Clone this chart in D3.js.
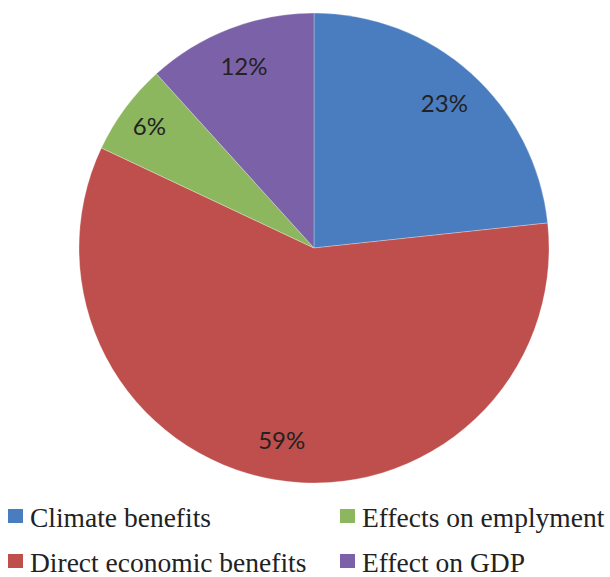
<!DOCTYPE html>
<html><head><meta charset="utf-8">
<script src="https://cdn.jsdelivr.net/npm/d3@7"></script>
<style>body{margin:0;background:#fff}svg{display:block}</style>
</head><body>
<svg id="chart" width="610" height="577"></svg>
<script>
const categories = ["Climate benefits", "Direct economic benefits", "Effects on emplyment", "Effect on GDP"];
const values = [23.3, 58.7, 6.3, 11.7];
const labels = ["23%", "59%", "6%", "12%"];
const colors = ["#4A7DBF", "#BE4F4D", "#8DB75E", "#7B61A8"];

const svg = d3.select("#chart");
const cx = 314, cy = 248, R = 235;
const g = svg.append("g").attr("transform", `translate(${cx},${cy})`);
const pie = d3.pie().sort(null).value(d => d)(values);
const arc = d3.arc().innerRadius(0).outerRadius(R);
g.selectAll("path").data(pie).join("path")
  .attr("d", arc).attr("fill", (d,i) => colors[i])
  .attr("stroke", "#fff").attr("stroke-opacity", 0.4).attr("stroke-width", 0.7);
const labelArc = d3.arc().innerRadius(195).outerRadius(195);
const smallArc = d3.arc().innerRadius(205).outerRadius(205);
g.selectAll("text").data(pie).join("text")
  .attr("transform", (d,i) => `translate(${(d.data < 10 ? smallArc : labelArc).centroid(d)})`)
  .attr("text-anchor", "middle").attr("dy", "0.36em")
  .attr("font-family", "Lato, 'Open Sans', sans-serif").attr("font-size", 24)
  .attr("fill", "#222").text((d,i) => labels[i]);

const legendPos = [[8, 509], [8, 554], [340, 509], [340, 554]];
const lg = svg.selectAll("g.leg").data(categories).join("g").attr("class", "leg")
  .attr("transform", (d,i) => `translate(${legendPos[i][0]},${legendPos[i][1]})`);
lg.append("rect").attr("width", 15).attr("height", 14).attr("fill", (d,i) => colors[i]);
lg.append("text").attr("x", 22).attr("y", 18)
  .attr("font-family", "'Liberation Serif', 'Times New Roman', serif").attr("font-size", 27.5)
  .attr("fill", "#222").text(d => d);
</script>
</body></html>
